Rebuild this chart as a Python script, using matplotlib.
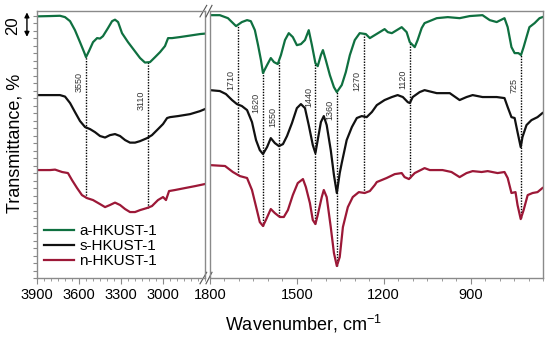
import numpy as np
import matplotlib.pyplot as plt
from matplotlib.ticker import MultipleLocator

plt.rcParams['font.family'] = ['Liberation Sans', 'DejaVu Sans']
plt.rcParams['mathtext.fontset'] = 'custom'
plt.rcParams['mathtext.rm'] = 'Liberation Sans'

# ---- spectra, high wavenumber range (3900-2700 cm-1), offset transmittance ----
wn_hi_a = [3900, 3807, 3736, 3700, 3664, 3629, 3593, 3564, 3550, 3529, 3500, 3471, 3450,
           3429, 3393, 3364, 3343, 3321, 3293, 3250, 3207, 3164, 3129, 3093, 3057, 3021,
           2986, 2964, 2936, 2879, 2807, 2736, 2700]
t_hi_a = [174.5, 174.7, 174.9, 174.0, 171.3, 165.3, 157.3, 150.7, 147.3, 151.3, 157.3, 160.0,
          159.7, 161.3, 166.7, 171.3, 172.3, 170.7, 163.3, 157.3, 152.0, 146.7, 143.7, 144.0,
          147.3, 150.7, 154.7, 160.0, 160.0, 160.7, 161.7, 162.7, 163.0]

wn_hi_s = [3900, 3736, 3700, 3664, 3629, 3593, 3557, 3521, 3486, 3450, 3414, 3379, 3343,
           3307, 3271, 3236, 3200, 3164, 3114, 3079, 3036, 3000, 2971, 2950, 2893, 2807,
           2736, 2700]
t_hi_s = [122.0, 122.0, 121.0, 116.7, 110.7, 104.7, 100.7, 99.3, 97.3, 94.7, 93.7, 95.3, 96.0,
          94.7, 92.0, 90.3, 90.3, 91.3, 93.3, 95.3, 99.3, 102.7, 106.7, 107.3, 108.0, 109.3,
          111.3, 112.7]

wn_hi_n = [3900, 3807, 3771, 3721, 3679, 3650, 3614, 3579, 3543, 3500, 3450, 3414, 3379,
           3343, 3307, 3271, 3236, 3200, 3164, 3114, 3079, 3036, 3000, 2979, 2957, 2914,
           2843, 2771, 2700]
t_hi_n = [72.0, 72.0, 72.3, 70.7, 70.0, 65.3, 60.0, 55.3, 53.3, 52.0, 49.3, 47.3, 48.7,
          50.3, 48.7, 46.0, 44.0, 44.0, 45.3, 46.7, 48.0, 52.0, 54.0, 52.0, 58.0, 58.7,
          60.0, 61.3, 62.7]

# ---- spectra, low wavenumber range (1800-650 cm-1) ----
wn_lo_a = [1800, 1766, 1738, 1710, 1690, 1672, 1659, 1645, 1634, 1624, 1617, 1603, 1590,
           1579, 1566, 1555, 1541, 1528, 1514, 1500, 1486, 1472, 1459, 1448, 1436, 1428,
           1417, 1410, 1400, 1386, 1372, 1362, 1345, 1331, 1317, 1300, 1283, 1262, 1248,
           1231, 1214, 1197, 1186, 1172, 1155, 1138, 1121, 1110, 1093, 1083, 1069, 1059,
           1017, 979, 938, 903, 859, 834, 810, 783, 772, 759, 748, 735, 726, 717, 707,
           697, 679, 662, 652]
t_lo_a = [175.3, 175.3, 173.3, 168.0, 170.7, 172.0, 171.3, 165.3, 155.3, 145.3, 136.7, 142.0,
          146.7, 144.0, 142.7, 148.7, 158.7, 163.3, 160.7, 155.3, 156.0, 158.7, 165.3, 155.3,
          143.3, 141.3, 148.7, 152.0, 145.3, 135.3, 127.3, 124.0, 128.7, 137.3, 148.7, 158.7,
          163.3, 162.7, 160.0, 162.0, 164.0, 166.0, 164.0, 163.3, 165.3, 167.3, 164.0, 157.3,
          154.0, 158.7, 166.7, 170.0, 173.3, 174.0, 173.3, 174.7, 175.3, 172.0, 170.7, 173.3,
          167.3, 154.0, 150.0, 150.0, 148.7, 154.0, 160.7, 167.3, 170.0, 173.3, 174.0]

wn_lo_s = [1800, 1766, 1745, 1724, 1707, 1690, 1672, 1655, 1641, 1628, 1617, 1603, 1590,
           1576, 1562, 1548, 1534, 1517, 1500, 1486, 1472, 1459, 1445, 1436, 1428, 1417,
           1407, 1397, 1383, 1372, 1362, 1352, 1345, 1328, 1310, 1293, 1276, 1259, 1241,
           1224, 1197, 1172, 1152, 1134, 1117, 1110, 1100, 1076, 1059, 1017, 972, 938, 914,
           893, 859, 810, 783, 772, 759, 748, 738, 727, 721, 707, 690, 669, 652]
t_lo_s = [125.3, 124.7, 122.7, 118.7, 116.0, 114.7, 112.0, 104.0, 92.0, 85.3, 82.7, 87.3,
          93.3, 90.0, 88.0, 89.3, 94.7, 103.3, 113.3, 116.0, 113.3, 102.0, 88.7, 83.3, 92.0,
          104.0, 108.0, 102.0, 85.3, 68.7, 56.7, 70.0, 76.7, 92.0, 100.7, 106.7, 108.0, 107.3,
          110.7, 115.3, 118.7, 120.7, 122.0, 120.7, 117.3, 116.7, 120.7, 124.0, 125.3, 123.3,
          123.3, 118.7, 120.7, 122.0, 120.7, 120.7, 120.0, 114.0, 107.3, 106.7, 97.3, 87.3,
          94.0, 102.0, 105.3, 107.3, 110.0]

wn_lo_n = [1800, 1748, 1721, 1697, 1672, 1655, 1638, 1628, 1617, 1607, 1590, 1576, 1559,
           1545, 1531, 1514, 1497, 1479, 1469, 1455, 1445, 1436, 1428, 1414, 1407, 1397,
           1383, 1372, 1362, 1352, 1341, 1324, 1307, 1286, 1266, 1248, 1231, 1224, 1190,
           1162, 1138, 1128, 1113, 1093, 1059, 1041, 997, 966, 938, 914, 893, 862, 841, 807,
           783, 772, 759, 745, 738, 727, 717, 703, 686, 669, 652]
t_lo_n = [75.3, 74.7, 70.7, 68.0, 66.7, 58.7, 45.3, 37.3, 34.7, 38.7, 46.0, 43.3, 40.7,
          40.7, 45.3, 55.3, 63.3, 66.0, 60.7, 50.0, 38.7, 36.0, 42.0, 54.0, 58.7, 54.0, 34.0,
          16.7, 8.0, 14.0, 34.0, 47.3, 54.0, 57.3, 56.7, 58.0, 62.0, 64.0, 66.7, 69.3, 70.0,
          67.3, 66.0, 70.0, 73.3, 72.0, 72.0, 70.7, 67.3, 70.0, 71.3, 70.7, 71.3, 70.0, 70.7,
          66.7, 56.7, 57.3, 48.7, 39.3, 45.3, 55.3, 56.7, 57.3, 60.0]

names = ['a-HKUST-1', 's-HKUST-1', 'n-HKUST-1']
colors = ['#0f7040', '#111111', '#9c1837']

# marked bands: drawn position, label, label height
peak_pos = [3550, 3107, 1705, 1618, 1562, 1436, 1362, 1269, 1110, 726]
peak_lbl = ['3550', '3110', '1710', '1620', '1550', '1440', '1360', '1270', '1120', '725']
peak_txt_y = [130.7, 118.7, 132.0, 116.7, 107.3, 120.7, 112.0, 131.3, 132.7, 128.7]

fig = plt.figure(figsize=(5.5, 3.37), dpi=100)
ax1 = fig.add_axes([0.0673, 0.175, 0.3055, 0.792])
ax2 = fig.add_axes([0.3818, 0.175, 0.6055, 0.792])

hi = [(wn_hi_a, t_hi_a), (wn_hi_s, t_hi_s), (wn_hi_n, t_hi_n)]
lo = [(wn_lo_a, t_lo_a), (wn_lo_s, t_lo_s), (wn_lo_n, t_lo_n)]
for (x, y), c, nm in zip(hi, colors, names):
    ax1.plot(x, y, color=c, lw=1.6, label=nm, solid_joinstyle='round')
for (x, y), c in zip(lo, colors):
    ax2.plot(x, y, color=c, lw=1.6, solid_joinstyle='round')

for p, lbl, ty in zip(peak_pos, peak_lbl, peak_txt_y):
    if p > 2000:
        ax, (xa, ya), (xn, yn) = ax1, hi[0], hi[2]
    else:
        ax, (xa, ya), (xn, yn) = ax2, lo[0], lo[2]
    top = np.interp(p, xa[::-1], ya[::-1])
    bot = np.interp(p, xn[::-1], yn[::-1])
    ax.vlines(p, bot, top, colors='black', linestyles=(0, (1, 1)), lw=1.0, zorder=1)
    ax.annotate(lbl, (p, ty), xytext=(-1.5, 0), textcoords='offset points',
                rotation=90, ha='right', va='center', fontsize=6.5, color='#333333')

for ax in (ax1, ax2):
    ax.set_ylim(0, 178)
    for s in ax.spines.values():
        s.set_color('#8a8a8a')
        s.set_linewidth(1.0)
    ax.xaxis.set_minor_locator(MultipleLocator(50))
    ax.tick_params(axis='x', which='major', length=4, color='#8a8a8a', labelsize=10.5, pad=3)
    ax.tick_params(axis='x', which='minor', length=2.5, color='#8a8a8a')

ax1.set_xlim(3900, 2700)
ax1.set_xticks([3900, 3600, 3300, 3000])
ax1.yaxis.set_major_locator(MultipleLocator(5))
ax1.set_yticklabels([])
ax1.tick_params(axis='y', length=3, color='#8a8a8a')

ax2.set_xlim(1800, 650)
ax2.set_xticks([1800, 1500, 1200, 900])
ax2.set_yticks([])

# break marks
d = 0.012
kw = dict(color='#555555', lw=0.8, clip_on=False)
for yy in (0, 1):
    ax1.plot([1 - 0.03, 1 + 0.01], [yy - d * 1.8, yy + d * 1.8], transform=ax1.transAxes, **kw)
    ax2.plot([-0.012, 0.006], [yy - d * 1.8, yy + d * 1.8], transform=ax2.transAxes, **kw)

# scale bar
ax1.annotate('', xy=(-0.06, 179), xytext=(-0.06, 159),
             xycoords=ax1.get_yaxis_transform(), textcoords=ax1.get_yaxis_transform(),
             arrowprops=dict(arrowstyle='<|-|>', color='black', lw=1, mutation_scale=7),
             annotation_clip=False)
ax1.text(-0.145, 168, '20', transform=ax1.get_yaxis_transform(), rotation=90,
         ha='center', va='center', fontsize=12)

ax1.legend(loc='lower left', bbox_to_anchor=(0.03, 0.03), frameon=False, fontsize=11,
           handlelength=2.0, handletextpad=0.35, labelspacing=0.08, borderaxespad=0,
           borderpad=0.1)

fig.text(0.027, 0.576, 'Transmittance, %', rotation=90, ha='center', va='center', fontsize=13)
fig.text(0.551, 0.04, 'Wavenumber, cm$^{-1}$', ha='center', va='center', fontsize=13)

fig.savefig('out.png', dpi=100)
